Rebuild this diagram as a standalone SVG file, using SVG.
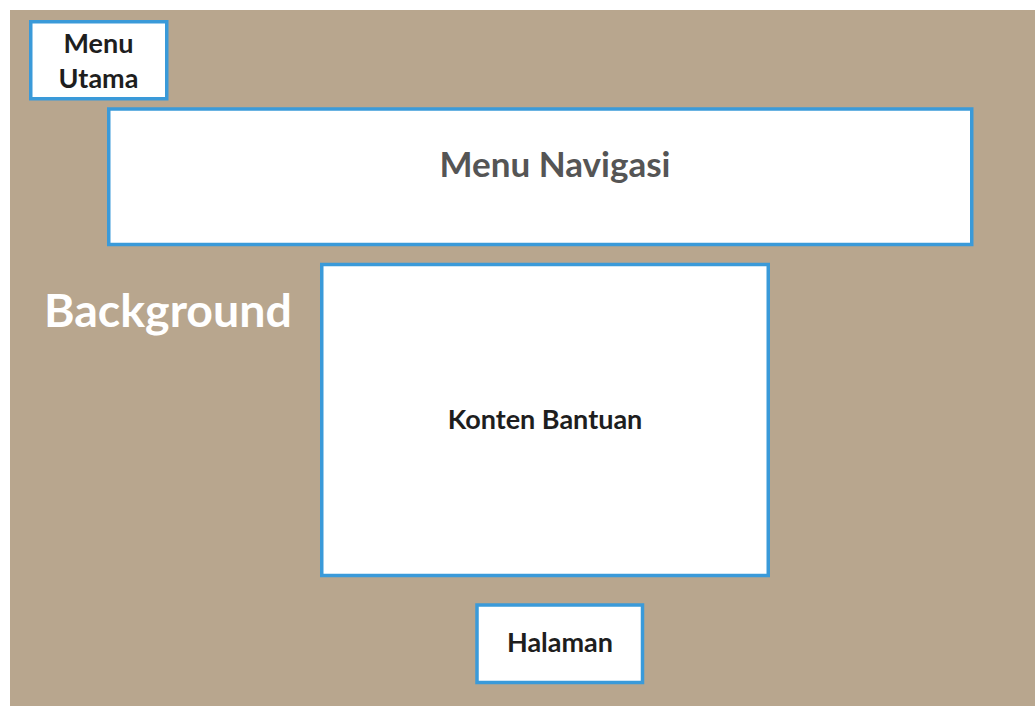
<svg xmlns="http://www.w3.org/2000/svg" width="1035" height="706" viewBox="0 0 1035 706">
<style>
.box{fill:#ffffff;stroke:#3a9ad9;stroke-width:3.5}
.t{font-family:Lato,"Open Sans",sans-serif;font-weight:bold;fill:#1e1e1e;text-anchor:middle}
</style>
<rect x="0" y="0" width="1035" height="706" fill="#ffffff"/>
<rect x="10" y="10" width="1025" height="696" fill="#b8a68e"/>
<text x="44" y="327" font-family="Lato,'Open Sans',sans-serif" font-weight="bold" font-size="46.5" fill="#ffffff">Background</text>
<g id="menu-utama">
<rect class="box" x="30.75" y="21.75" width="136" height="77"/>
<text class="t" x="98.5" y="53" font-size="27">Menu</text>
<text class="t" x="98.5" y="88" font-size="27">Utama</text>
</g>
<g id="menu-navigasi">
<rect class="box" x="108.75" y="109" width="863" height="135.5"/>
<text class="t" x="555" y="177" font-size="35" style="fill:#555555">Menu Navigasi</text>
</g>
<g id="konten-bantuan">
<rect class="box" x="321.75" y="264.5" width="446.5" height="311"/>
<text class="t" x="545" y="429" font-size="27">Konten Bantuan</text>
</g>
<g id="halaman">
<rect class="box" x="477" y="605" width="165.5" height="77.5"/>
<text class="t" x="560" y="652" font-size="27">Halaman</text>
</g>
<g id="connectors"></g>
</svg>
